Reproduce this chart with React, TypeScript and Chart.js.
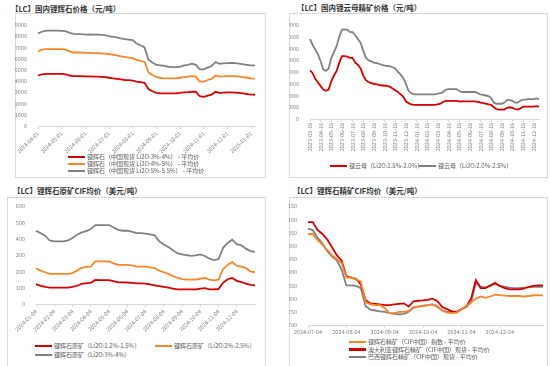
import React, { useEffect, useRef } from 'react';
import { Chart, registerables } from 'chart.js';

Chart.register(...registerables);

const FONT = '"Noto Sans CJK SC", "Noto Sans", sans-serif';
const RED = '#D40000';
const ORANGE = '#F7862B';
const GRAY = '#808080';

// ---------- Chart 1: 国内锂辉石价格 ----------
const MONTHS1 = ['2024-04-01', '2024-05-01', '2024-06-01', '2024-07-01', '2024-08-01', '2024-09-01', '2024-10-01', '2024-11-01', '2024-12-01', '2025-01-01'];
const PER_MONTH1 = 6;
const SPOD_CN_3_4 = [4500, 4600, 4650, 4650, 4650, 4650, 4650, 4600, 4500, 4450,
  4450, 4450, 4430, 4420, 4400, 4400, 4380, 4350, 4300, 4250,
  4200, 4150, 4100, 4080, 4050, 3950, 3900, 3850, 3300, 3100,
  2950, 2920, 2900, 2900, 2900, 2920, 2950, 3000, 3020, 3050,
  3050, 2650, 2600, 2700, 2800, 3050, 2950, 2980, 3000, 3000,
  2980, 2950, 2900, 2850, 2800, 2800];
const SPOD_CN_4_5 = [6650, 6800, 6850, 6850, 6850, 6850, 6850, 6800, 6650, 6550,
  6550, 6550, 6520, 6520, 6500, 6500, 6480, 6450, 6400, 6350,
  6300, 6200, 6150, 6100, 6050, 5900, 5800, 5700, 4800, 4550,
  4350, 4300, 4250, 4250, 4250, 4250, 4300, 4350, 4400, 4450,
  4400, 3950, 3950, 4100, 4200, 4500, 4400, 4420, 4450, 4450,
  4450, 4400, 4350, 4300, 4250, 4220];
const SPOD_CN_5_55 = [8250, 8400, 8500, 8500, 8500, 8500, 8480, 8450, 8300, 8200,
  8180, 8180, 8150, 8170, 8150, 8150, 8120, 8100, 8000, 7950,
  7900, 7800, 7750, 7700, 7650, 7350, 7200, 7000, 5900, 5650,
  5450, 5400, 5350, 5280, 5250, 5250, 5280, 5400, 5450, 5550,
  5450, 5050, 5050, 5200, 5350, 5700, 5550, 5580, 5600, 5620,
  5600, 5550, 5500, 5450, 5400, 5400];

// ---------- Chart 2: 国内锂云母精矿价格 ----------
const MONTHS2 = ['2023-03-16', '2023-04-16', '2023-05-16', '2023-06-16', '2023-07-16', '2023-08-16', '2023-09-16', '2023-10-16', '2023-11-16', '2023-12-16', '2024-01-16',
  '2024-02-16', '2024-03-16', '2024-04-16', '2024-05-16', '2024-06-16', '2024-07-16', '2024-08-16', '2024-09-16', '2024-10-16', '2024-11-16', '2024-12-16'];
const PER_MONTH2 = 4;
const LEPI_15_20 = [4150, 3900, 3400, 3100, 2800, 2500, 2400, 2500, 3200, 3700,
  4100, 4800, 5350, 5350, 5300, 5200, 5200, 4800, 4600, 4300,
  3700, 3300, 3150, 3050, 3000, 2950, 2900, 2850, 2850, 2800,
  2750, 2600, 2450, 2300, 2100, 1900, 1500, 1350, 1250, 1200,
  1200, 1200, 1200, 1200, 1200, 1200, 1200, 1200, 1250, 1300,
  1450, 1550, 1550, 1550, 1550, 1550, 1500, 1500, 1500, 1500,
  1500, 1500, 1500, 1450, 1400, 1350, 1300, 1250, 1200, 1000,
  850, 800, 800, 800, 950, 1000, 950, 850, 800, 900,
  1050, 1050, 1050, 1050, 1050, 1100, 1050];
const LEPI_20_25 = [6800, 6300, 5900, 5500, 4900, 4200, 4100, 4300, 5200, 5700,
  6200, 7000, 7600, 7600, 7600, 7400, 7400, 7100, 6800, 6500,
  5800, 5200, 5000, 4900, 4800, 4750, 4700, 4600, 4550, 4500,
  4500, 4400, 4300, 4000, 3800, 3500, 3000, 2400, 2200, 2100,
  2100, 2100, 2100, 2100, 2100, 2100, 2100, 2100, 2150, 2200,
  2300, 2500, 2550, 2550, 2550, 2550, 2400, 2300, 2300, 2300,
  2300, 2300, 2300, 2200, 2100, 2050, 2000, 1950, 1800, 1400,
  1300, 1300, 1300, 1400, 1600, 1600, 1550, 1400, 1400, 1550,
  1650, 1650, 1700, 1700, 1700, 1750, 1700];

// ---------- Chart 3: 锂辉石原矿CIF均价 ----------
const MONTHS3 = ['2024-01-04', '2024-02-04', '2024-03-04', '2024-04-04', '2024-05-04', '2024-06-04', '2024-07-04', '2024-08-04', '2024-09-04', '2024-10-04', '2024-11-04', '2024-12-04'];
const PER_MONTH3 = 4;
const ORE_12_15 = [122, 112, 105, 100, 100, 100, 100, 100, 105, 112,
  123, 128, 130, 148, 147, 147, 147, 140, 133, 133,
  132, 130, 127, 127, 125, 120, 115, 110, 105, 100,
  95, 90, 90, 90, 90, 90, 95, 98, 90, 90,
  92, 130, 152, 160, 142, 135, 125, 118, 115];
const ORE_2_25 = [220, 205, 195, 185, 185, 185, 185, 185, 190, 205,
  222, 228, 230, 262, 262, 262, 262, 250, 240, 240,
  240, 237, 230, 230, 230, 225, 220, 205, 195, 185,
  172, 160, 153, 150, 150, 150, 155, 160, 150, 145,
  150, 215, 240, 258, 235, 230, 220, 200, 195];
const ORE_3_4 = [450, 435, 420, 390, 385, 385, 385, 390, 405, 425,
  440, 448, 460, 485, 485, 485, 485, 470, 455, 450,
  450, 445, 435, 435, 432, 428, 422, 385, 365, 350,
  330, 312, 305, 300, 295, 298, 305, 295, 278, 270,
  275, 345, 375, 395, 368, 360, 340, 325, 320];

// ---------- Chart 4: 锂辉石精矿CIF均价 ----------
const MONTHS4 = ['2024-07-04', '2024-08-04', '2024-09-04', '2024-10-04', '2024-11-04', '2024-12-04'];
const PER_MONTH4 = 8;
const CONC_INDEX = [1045, 1045, 1022, 1005, 985, 965, 950, 935, 880, 880,
  872, 865, 788, 778, 775, 775, 765, 745, 745, 750,
  750, 753, 768, 770, 772, 775, 778, 772, 755, 747,
  745, 747, 760, 772, 785, 800, 808, 803, 808, 815,
  813, 811, 810, 810, 810, 808, 810, 812, 813, 812];
const CONC_AU = [1090, 1090, 1060, 1045, 1025, 995, 965, 945, 885, 880,
  875, 855, 795, 782, 780, 778, 775, 775, 778, 780,
  782, 770, 790, 792, 793, 795, 800, 790, 768, 760,
  752, 750, 760, 770, 800, 870, 840, 840, 850, 860,
  848, 840, 835, 835, 835, 838, 845, 848, 850, 850];
const CONC_BR = [1065, 1060, 1030, 1010, 980, 960, 945, 910, 850, 850,
  848, 840, 772, 758, 755, 752, 750, 745, 742, 740,
  742, 750, 766, 770, 773, 775, 778, 768, 755, 750,
  750, 750, 760, 770, 785, 860, 845, 842, 848, 855,
  848, 845, 842, 840, 840, 842, 843, 845, 845, 845];

function buildLabels(months: string[], perMonth: number, n: number): string[] {
  const out: string[] = [];
  for (let i = 0; i < n; i++) {
    out.push(i % perMonth === 0 && months[i / perMonth] ? months[i / perMonth] : '');
  }
  return out;
}

type Series = { label: string; data: number[]; color: string };

type ChartProps = {
  left: number; top: number; width: number; height: number;
  labels: string[]; series: Series[];
  yMin: number; yMax: number; yStep: number;
  rotation: number; yWidth: number; xHeight: number; padTop: number; padRight: number;
};

function LineChart(p: ChartProps) {
  const ref = useRef<HTMLCanvasElement>(null);
  useEffect(() => {
    const labels = p.labels;
    const chart = new Chart(ref.current as HTMLCanvasElement, {
      type: 'line',
      data: {
        labels,
        datasets: p.series.map((s) => ({
          label: s.label,
          data: s.data,
          borderColor: s.color,
          backgroundColor: s.color,
          borderWidth: 1.8,
          pointRadius: 0,
          tension: 0,
          fill: false,
        })),
      },
      options: {
        animation: false,
        responsive: false,
        maintainAspectRatio: false,
        layout: { padding: { top: p.padTop, right: p.padRight, left: 0, bottom: 0 } },
        plugins: { legend: { display: false }, tooltip: { enabled: false } },
        scales: {
          x: {
            type: 'category',
            offset: false,
            afterBuildTicks: (ax: any) => {
              ax.ticks = ax.ticks.filter((t: any) => labels[t.value] !== '');
            },
            afterFit: (ax: any) => { ax.height = p.xHeight; },
            grid: { display: true, drawOnChartArea: false, drawTicks: true, tickLength: 3, color: '#D9D9D9' },
            border: { display: true, color: '#D9D9D9' },
            ticks: {
              autoSkip: false,
              maxRotation: p.rotation,
              minRotation: p.rotation,
              padding: 1,
              color: '#7F7F7F',
              font: { family: FONT, size: 5.5 },
            },
          },
          y: {
            min: p.yMin,
            max: p.yMax,
            afterFit: (ax: any) => { ax.width = p.yWidth; },
            grid: { display: false },
            border: { display: false },
            ticks: {
              stepSize: p.yStep,
              padding: 3,
              color: '#7F7F7F',
              font: { family: FONT, size: 5.5 },
              callback: (v: any) => String(v),
            },
          },
        },
      } as any,
    });
    return () => chart.destroy();
  }, []);
  return (
    <canvas
      ref={ref}
      width={p.width}
      height={p.height}
      style={{ position: 'absolute', left: p.left, top: p.top, width: p.width, height: p.height }}
    />
  );
}

function Box({ left, top, width, height }: { left: number; top: number; width: number; height: number }) {
  return <div style={{ position: 'absolute', left, top, width, height, border: '1px solid #D9D9D9', boxSizing: 'border-box' }} />;
}

function Title({ left, top, text }: { left: number; top: number; text: string }) {
  return (
    <div style={{ position: 'absolute', left, top, fontFamily: FONT, fontWeight: 700, fontSize: 7.5, lineHeight: '9px', color: '#333', whiteSpace: 'nowrap' }}>
      {text}
    </div>
  );
}

function LegendItem({ left, top, s }: { left: number; top: number; s: Series }) {
  return (
    <div style={{ position: 'absolute', left, top: top - 4, height: 8, display: 'flex', alignItems: 'center', whiteSpace: 'nowrap' }}>
      <span style={{ display: 'inline-block', width: 17, height: 2.5, background: s.color, marginRight: 2 }} />
      <span style={{ fontFamily: FONT, fontSize: 6, lineHeight: '8px', color: '#595959' }}>{s.label}</span>
    </div>
  );
}

export default function App() {
  const s1: Series[] = [
    { label: '锂辉石（中国现货 Li2O:3%-4%） - 平均价', data: SPOD_CN_3_4, color: RED },
    { label: '锂辉石（中国现货 Li2O:4%-5%） - 平均价', data: SPOD_CN_4_5, color: ORANGE },
    { label: '锂辉石（中国现货 Li2O:5%-5.5%） - 平均价', data: SPOD_CN_5_55, color: GRAY },
  ];
  const s2: Series[] = [
    { label: '锂云母（Li2O:1.5%-2.0%）', data: LEPI_15_20, color: RED },
    { label: '锂云母（Li2O:2.0%-2.5%）', data: LEPI_20_25, color: GRAY },
  ];
  const s3: Series[] = [
    { label: '锂辉石原矿（Li2O:1.2%-1.5%）', data: ORE_12_15, color: RED },
    { label: '锂辉石原矿（Li2O:2%-2.5%）', data: ORE_2_25, color: ORANGE },
    { label: '锂辉石原矿（Li2O:3%-4%）', data: ORE_3_4, color: GRAY },
  ];
  const s4: Series[] = [
    { label: '锂辉石精矿（CIF中国）指数 - 平均价', data: CONC_INDEX, color: ORANGE },
    { label: '澳大利亚锂辉石精矿（CIF中国）现货 - 平均价', data: CONC_AU, color: RED },
    { label: '巴西锂辉石精矿（CIF中国）现货 - 平均价', data: CONC_BR, color: GRAY },
  ];

  return (
    <div style={{ position: 'relative', width: 550, height: 366, background: '#fff', overflow: 'hidden' }}>
      <style>{'body{margin:0;}'}</style>

      {/* Panel 1 */}
      <Box left={15} top={13} width={251} height={165} />
      <Title left={11} top={4} text="【LC】国内锂辉石价格（元/吨）" />
      <LineChart left={15} top={18} width={250} height={140}
        labels={buildLabels(MONTHS1, PER_MONTH1, SPOD_CN_3_4.length)} series={s1}
        yMin={0} yMax={9000} yStep={1000} rotation={45} yWidth={23} xHeight={32} padTop={7} padRight={10} />
      {s1.map((s, i) => <LegendItem key={i} left={68} top={157 + i * 7} s={s} />)}

      {/* Panel 2 */}
      <Box left={289} top={13} width={259} height={165} />
      <Title left={297} top={3} text="【LC】国内锂云母精矿价格（元/吨）" />
      <LineChart left={289} top={18} width={259} height={140}
        labels={buildLabels(MONTHS2, PER_MONTH2, LEPI_15_20.length)} series={s2}
        yMin={0} yMax={8000} yStep={1000} rotation={90} yWidth={21} xHeight={39} padTop={7} padRight={9} />
      <LegendItem left={330} top={166} s={s2[0]} />
      <LegendItem left={419} top={166} s={s2[1]} />

      {/* Panel 3 */}
      <Box left={7} top={197} width={259} height={170} />
      <Title left={13} top={186} text="【LC】锂辉石原矿CIF均价（美元/吨）" />
      <LineChart left={7} top={200} width={258} height={137}
        labels={buildLabels(MONTHS3, PER_MONTH3, ORE_3_4.length)} series={s3}
        yMin={0} yMax={600} yStep={100} rotation={45} yWidth={29} xHeight={33} padTop={6} padRight={10} />
      <LegendItem left={35} top={346} s={s3[0]} />
      <LegendItem left={155} top={346} s={s3[1]} />
      <LegendItem left={35} top={355} s={s3[2]} />

      {/* Panel 4 */}
      <Box left={289} top={197} width={259} height={170} />
      <Title left={293} top={186} text="【LC】锂辉石精矿CIF均价（美元/吨）" />
      <LineChart left={289} top={200} width={259} height={138}
        labels={buildLabels(MONTHS4, PER_MONTH4, CONC_AU.length)} series={s4}
        yMin={700} yMax={1150} yStep={50} rotation={0} yWidth={19} xHeight={13} padTop={6} padRight={5} />
      {s4.map((s, i) => <LegendItem key={i} left={349} top={342 + i * 7.5} s={s} />)}
    </div>
  );
}
